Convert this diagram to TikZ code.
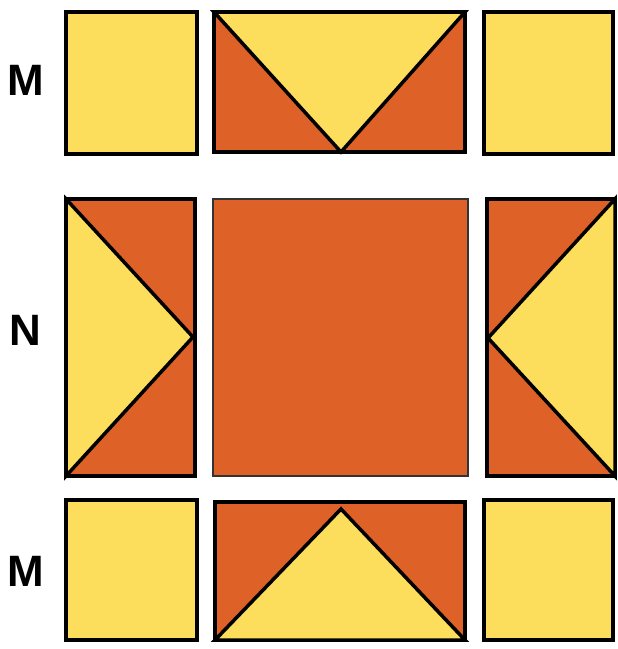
\documentclass[tikz,border=0pt]{standalone}
\usepackage{fontspec}
\setmainfont{Liberation Sans}
\usetikzlibrary{positioning}
\definecolor{quiltyellow}{HTML}{FCDD5C}
\definecolor{quiltorange}{HTML}{DE6127}

\begin{document}
\begin{tikzpicture}[x=0.02cm, y=-0.02cm, line join=miter,
    light/.style={fill=quiltyellow, draw=black, line width=2pt},
    dark/.style={fill=quiltorange, draw=black, line width=2pt},
    rowlabel/.style={font=\fontsize{25}{29}\selectfont\bfseries}]
    \useasboundingbox (0,0) rectangle (618,649);

    % row labels
    \node[rowlabel] (mtop) at (26,80) {M};
    \node[rowlabel] (nmid) at (25,330) {N};
    \node[rowlabel] (mbot) at (26,571) {M};

    % top row
    \draw[light] (66,12) rectangle (197,154);
    \draw[dark] (214,12) rectangle (465,152);
    \draw[light] (214,12) -- (465,12) -- (341,152) -- cycle;
    \draw[light] (484,12) rectangle (613,154);

    % middle row
    \draw[dark] (66,199) rectangle (195,476);
    \draw[light] (66,199) -- (193,337) -- (66,476) -- cycle;
    \draw[fill=quiltorange, draw=black!80, line width=0.6pt] (213,199) rectangle (468,476);
    \draw[dark] (487,199) rectangle (615,476);
    \draw[light] (615,199) -- (488,338) -- (615,476) -- cycle;

    % bottom row
    \draw[light] (66,500) rectangle (197,640);
    \draw[dark] (215,502) rectangle (465,640);
    \draw[light] (215,640) -- (341,509) -- (465,640) -- cycle;
    \draw[light] (484,500) rectangle (613,640);
\end{tikzpicture}
\end{document}
